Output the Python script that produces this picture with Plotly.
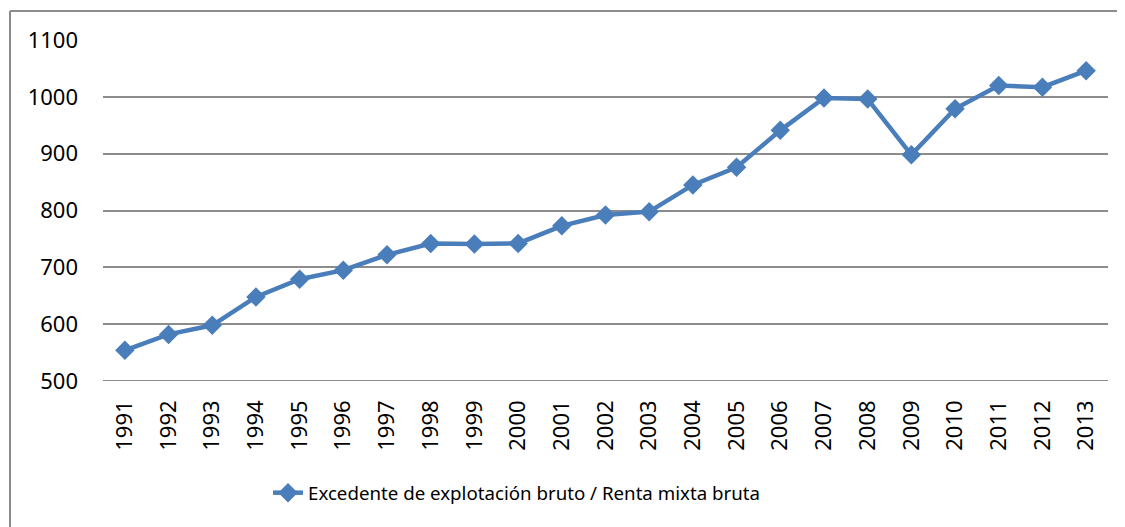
import plotly.graph_objects as go

years = [str(y) for y in range(1991, 2014)]
values = [554, 582, 598, 648, 679, 695, 722, 742, 741, 742, 773, 792, 798, 845,
          876, 941, 998, 996, 898, 979, 1020, 1017, 1046]
series_name = "Excedente de explotación bruto / Renta mixta bruta"

OFF = 8  # page body margin
W, H = 1125 - OFF, 527 - OFF
# target plot area in page pixels: x 103..1108, y 40..381
L = 103 - OFF
R = W - (1108 - OFF)
T = 40 - OFF
B = H - (381 - OFF)
pw, ph = W - L - R, H - T - B

def px_x(x):
    return (x - OFF - L) / pw

def px_y(y):
    return (H - B - (y - OFF)) / ph

fig = go.Figure()
fig.add_trace(go.Scatter(
    x=years, y=values, name=series_name, mode="lines+markers",
    line=dict(color="#4A7EBB", width=4.5),
    marker=dict(symbol="diamond", size=15, color="#4A7EBB"),
))

grid = "#8C8C8C"
fig.update_layout(
    width=W, height=H,
    margin=dict(l=L, r=R, t=T, b=B),
    paper_bgcolor="white", plot_bgcolor="white",
    font=dict(family="Noto Sans", color="black"),
    showlegend=True,
    legend=dict(orientation="h", x=px_x(268), xanchor="left", y=px_y(493), yanchor="middle",
                font=dict(size=18.7, family="Noto Sans"), bgcolor="rgba(0,0,0,0)"),
    xaxis=dict(type="category", range=[-0.5, len(years) - 0.5], showgrid=False,
               showline=False, zeroline=False,
               tickangle=-90, tickfont=dict(size=22), ticks="", ticklabelstandoff=14),
    yaxis=dict(range=[500, 1100], dtick=100, showgrid=True, gridcolor=grid, gridwidth=2,
               zeroline=False, showline=False, tickfont=dict(size=22), ticks="",
               ticklabelstandoff=24),
    shapes=[
        dict(type="line", xref="paper", yref="paper", x0=px_x(10), x1=px_x(10),
             y0=px_y(540), y1=px_y(11), line=dict(color=grid, width=2)),
        dict(type="line", xref="paper", yref="paper", x0=px_x(10), x1=px_x(1140),
             y0=px_y(11), y1=px_y(11), line=dict(color=grid, width=2)),
        dict(type="line", xref="paper", yref="y", x0=0, x1=1, y0=500, y1=500,
             line=dict(color=grid, width=2), layer="below"),
    ],
)

fig.write_html("out.html")
